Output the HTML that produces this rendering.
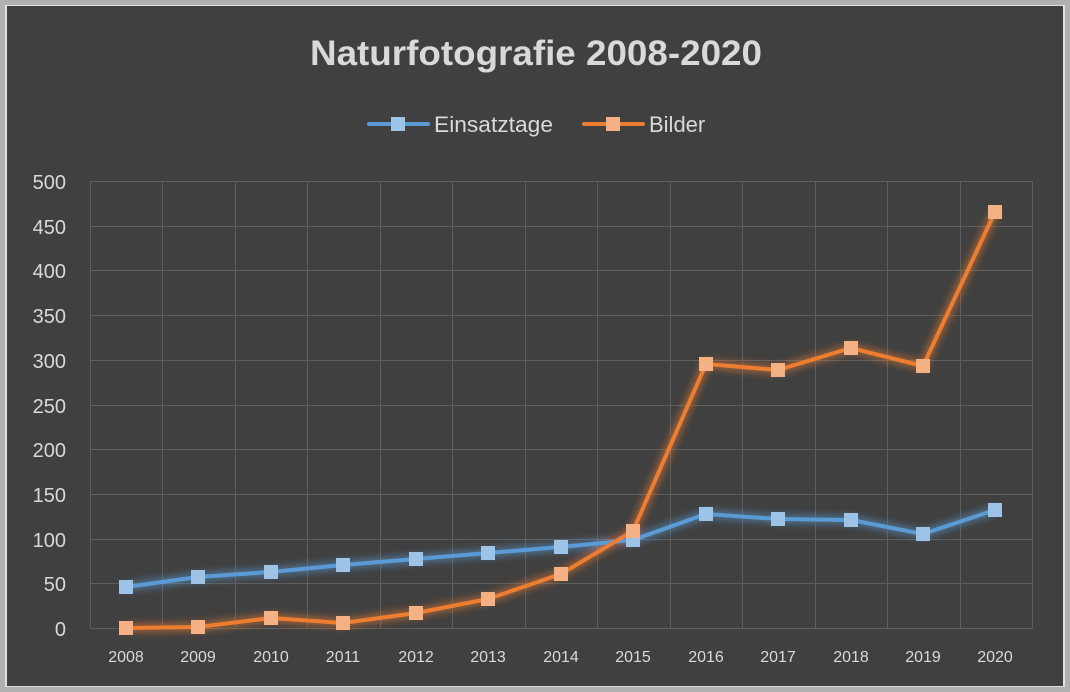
<!DOCTYPE html>
<html><head><meta charset="utf-8"><style>
html,body{margin:0;padding:0;background:#404040}
svg{display:block}
text{font-family:"Liberation Sans",sans-serif}
</style></head><body>
<svg width="1070" height="692" viewBox="0 0 1070 692" xmlns="http://www.w3.org/2000/svg">
<defs>
<filter id="glowO" x="-20%" y="-20%" width="140%" height="140%"><feGaussianBlur stdDeviation="4"/></filter>
</defs>
<rect x="0" y="0" width="1070" height="692" fill="#b0b0b0"/>
<rect x="5" y="5" width="1060" height="682" fill="#e0e0e0"/>
<rect x="7" y="6" width="1056" height="680" fill="#404040"/>
<text x="310" y="65" textLength="452" lengthAdjust="spacingAndGlyphs" font-size="35" font-weight="bold" fill="#d9d9d9">Naturfotografie 2008-2020</text>
<g>
<line x1="369" y1="124" x2="428" y2="124" stroke="#5b9bd5" stroke-width="4" stroke-linecap="round"/>
<rect x="391" y="117" width="14" height="14" fill="#9dc3e6"/>
<text x="434" y="132" font-size="22" fill="#d9d9d9" textLength="119" lengthAdjust="spacingAndGlyphs">Einsatztage</text>
<line x1="584" y1="124" x2="643" y2="124" stroke="#ed7d31" stroke-width="4" stroke-linecap="round"/>
<rect x="606" y="117" width="14" height="14" fill="#f4b183"/>
<text x="649" y="132" font-size="22" fill="#d9d9d9">Bilder</text>
</g>
<g stroke="#5e5e5e" stroke-width="1">
<line x1="90" y1="181.5" x2="1033" y2="181.5"/><line x1="90" y1="226.5" x2="1033" y2="226.5"/><line x1="90" y1="270.5" x2="1033" y2="270.5"/><line x1="90" y1="315.5" x2="1033" y2="315.5"/><line x1="90" y1="360.5" x2="1033" y2="360.5"/><line x1="90" y1="405.5" x2="1033" y2="405.5"/><line x1="90" y1="449.5" x2="1033" y2="449.5"/><line x1="90" y1="494.5" x2="1033" y2="494.5"/><line x1="90" y1="539.5" x2="1033" y2="539.5"/><line x1="90" y1="583.5" x2="1033" y2="583.5"/><line x1="90" y1="628.5" x2="1033" y2="628.5"/>
<line x1="90.5" y1="181" x2="90.5" y2="628"/><line x1="162.5" y1="181" x2="162.5" y2="628"/><line x1="235.5" y1="181" x2="235.5" y2="628"/><line x1="307.5" y1="181" x2="307.5" y2="628"/><line x1="380.5" y1="181" x2="380.5" y2="628"/><line x1="452.5" y1="181" x2="452.5" y2="628"/><line x1="525.5" y1="181" x2="525.5" y2="628"/><line x1="597.5" y1="181" x2="597.5" y2="628"/><line x1="670.5" y1="181" x2="670.5" y2="628"/><line x1="742.5" y1="181" x2="742.5" y2="628"/><line x1="815.5" y1="181" x2="815.5" y2="628"/><line x1="887.5" y1="181" x2="887.5" y2="628"/><line x1="960.5" y1="181" x2="960.5" y2="628"/><line x1="1032.5" y1="181" x2="1032.5" y2="628"/>
</g>
<g font-size="20" fill="#d9d9d9" text-anchor="end">
<text x="66" y="189">500</text><text x="66" y="234">450</text><text x="66" y="278">400</text><text x="66" y="323">350</text><text x="66" y="368">300</text><text x="66" y="413">250</text><text x="66" y="457">200</text><text x="66" y="502">150</text><text x="66" y="547">100</text><text x="66" y="591">50</text><text x="66" y="636">0</text>
</g>
<g font-size="16" fill="#d9d9d9" text-anchor="middle">
<text x="126" y="662">2008</text><text x="198" y="662">2009</text><text x="271" y="662">2010</text><text x="343" y="662">2011</text><text x="416" y="662">2012</text><text x="488" y="662">2013</text><text x="561" y="662">2014</text><text x="633" y="662">2015</text><text x="706" y="662">2016</text><text x="778" y="662">2017</text><text x="851" y="662">2018</text><text x="923" y="662">2019</text><text x="995" y="662">2020</text>
</g>
<g filter="url(#glowO)" opacity="0.6">
<polyline points="126,587 198,577 271,572 343,565 416,559 488,553 561,547 633,540 706,514 778,519 851,520 923,534 995,510" fill="none" stroke="#5b9bd5" stroke-width="8"/>
<polyline points="126,628 198,627 271,618 343,623 416,613 488,599 561,574 633,531 706,364 778,370 851,348 923,366 995,212" fill="none" stroke="#ed7d31" stroke-width="8"/>
</g>
<polyline points="126,587 198,577 271,572 343,565 416,559 488,553 561,547 633,540 706,514 778,519 851,520 923,534 995,510" fill="none" stroke="#5b9bd5" stroke-width="4" stroke-linejoin="round"/>
<g fill="#9dc3e6">
<rect x="119" y="580" width="14" height="14"/><rect x="191" y="570" width="14" height="14"/><rect x="264" y="565" width="14" height="14"/><rect x="336" y="558" width="14" height="14"/><rect x="409" y="552" width="14" height="14"/><rect x="481" y="546" width="14" height="14"/><rect x="554" y="540" width="14" height="14"/><rect x="626" y="533" width="14" height="14"/><rect x="699" y="507" width="14" height="14"/><rect x="771" y="512" width="14" height="14"/><rect x="844" y="513" width="14" height="14"/><rect x="916" y="527" width="14" height="14"/><rect x="988" y="503" width="14" height="14"/>
</g>
<polyline points="126,628 198,627 271,618 343,623 416,613 488,599 561,574 633,531 706,364 778,370 851,348 923,366 995,212" fill="none" stroke="#ed7d31" stroke-width="4" stroke-linejoin="round"/>
<g fill="#f4b183">
<rect x="119" y="621" width="14" height="14"/><rect x="191" y="620" width="14" height="14"/><rect x="264" y="611" width="14" height="14"/><rect x="336" y="616" width="14" height="14"/><rect x="409" y="606" width="14" height="14"/><rect x="481" y="592" width="14" height="14"/><rect x="554" y="567" width="14" height="14"/><rect x="626" y="524" width="14" height="14"/><rect x="699" y="357" width="14" height="14"/><rect x="771" y="363" width="14" height="14"/><rect x="844" y="341" width="14" height="14"/><rect x="916" y="359" width="14" height="14"/><rect x="988" y="205" width="14" height="14"/>
</g>
</svg>
</body></html>
